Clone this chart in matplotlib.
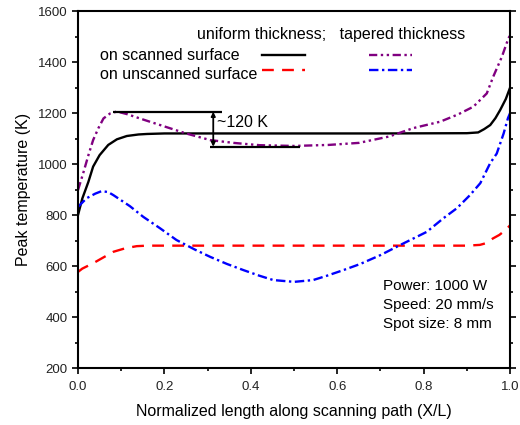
import matplotlib
matplotlib.use("Agg")
import matplotlib.pyplot as plt
from matplotlib.ticker import MultipleLocator

plt.rcParams["font.family"] = ["Liberation Sans", "DejaVu Sans"]

# uniform thickness, scanned surface
x_us = [0, 0.01, 0.024, 0.035, 0.05, 0.07, 0.09, 0.113, 0.14, 0.16, 0.2, 0.3,
        0.5, 0.7, 0.9, 0.926, 0.94, 0.954, 0.966, 0.977, 0.99, 1.0]
t_us = [800, 865, 930, 990, 1035, 1075, 1097, 1110, 1116, 1118, 1120, 1120,
        1120, 1120, 1121, 1124, 1137, 1153, 1180, 1212, 1255, 1300]

# uniform thickness, unscanned surface
x_uu = [0, 0.01, 0.035, 0.06, 0.082, 0.11, 0.136, 0.16, 0.2, 0.5, 0.9, 0.93,
        0.945, 0.96, 0.975, 0.99, 1.0]
t_uu = [577, 590, 611, 635, 656, 670, 678, 680, 680, 680, 680, 683,
        690, 708, 722, 742, 760]

# tapered thickness, scanned surface
x_ts = [0, 0.012, 0.025, 0.035, 0.047, 0.059, 0.074, 0.09, 0.113, 0.15, 0.19,
        0.25, 0.306, 0.36, 0.42, 0.5, 0.58, 0.65, 0.72, 0.776, 0.838, 0.88,
        0.915, 0.946, 0.961, 0.981, 0.996, 1.0]
t_ts = [898, 964, 1040, 1094, 1140, 1179, 1198, 1206, 1196, 1175, 1153,
        1120, 1094, 1083, 1074, 1071, 1075, 1083, 1108, 1141, 1166, 1195,
        1225, 1277, 1343, 1421, 1493, 1505]

# tapered thickness, unscanned surface
x_tu = [0, 0.02, 0.04, 0.055, 0.07, 0.082, 0.12, 0.151, 0.19, 0.228, 0.27,
        0.306, 0.345, 0.383, 0.42, 0.452, 0.5, 0.544, 0.576, 0.614, 0.653,
        0.7, 0.745, 0.807, 0.846, 0.877, 0.907, 0.931, 0.954, 0.969, 0.985,
        0.995, 1.0]
t_tu = [832, 866, 884, 894, 890, 878, 835, 793, 748, 702, 665,
        636, 608, 584, 562, 545, 538, 545, 562, 584, 608,
        643, 682, 734, 788, 827, 878, 925, 1004, 1041, 1120,
        1180, 1200]

# ~120 K marker
upper_level, lower_level = 1205, 1068
upper_span = [0.081, 0.333]
lower_span = [0.306, 0.514]
arrow_x = 0.313

fig = plt.figure(figsize=(5.2, 4.25), dpi=100)
ax = fig.add_axes([0.15, 0.134, 0.831, 0.840])

ln_us, = ax.plot(x_us, t_us, color="black", lw=1.7, ls="-")
ln_uu, = ax.plot(x_uu, t_uu, color="#ff0000", lw=1.7, ls=(0, (5, 3.5)))
ln_ts, = ax.plot(x_ts, t_ts, color="#800080", lw=1.7, ls=(0, (3.5, 1.5, 1, 1.5, 1, 1.5)))
ln_tu, = ax.plot(x_tu, t_tu, color="#0000ff", lw=1.7, ls=(0, (4, 1.5, 1, 1.5)))

ax.hlines(upper_level, *upper_span, color="black", lw=1.6)
ax.hlines(lower_level, *lower_span, color="black", lw=1.6)
ax.annotate("", xy=(arrow_x, lower_level), xytext=(arrow_x, upper_level),
            arrowprops=dict(arrowstyle="<|-|>", color="black", lw=1.3,
                            mutation_scale=6, shrinkA=0, shrinkB=0))
ax.text(0.322, 1163, "~120 K", fontsize=11.5, va="center", ha="left")

# legend block
ax.text(0.275, 1490, "uniform thickness;   tapered thickness", fontsize=11.5,
        va="baseline", ha="left")
ax.text(0.051, 1410, "on scanned surface", fontsize=11.5, va="baseline", ha="left")
ax.text(0.051, 1334, "on unscanned surface", fontsize=11.5, va="baseline", ha="left")
ax.legend(handles=[ln_us, ln_uu, ln_ts, ln_tu], labels=["", "", "", ""], ncol=2,
          loc="center left", bbox_to_anchor=(0.425, 1394),
          bbox_transform=ax.transData, frameon=False, fontsize=11.5,
          handlelength=2.7, handletextpad=0, columnspacing=4.0,
          labelspacing=0.05, borderpad=0, borderaxespad=0)

ax.text(0.705, 447, "Power: 1000 W\nSpeed: 20 mm/s\nSpot size: 8 mm", fontsize=11,
        va="center", ha="left", linespacing=1.45)

ax.set_xlim(0, 1.0)
ax.set_ylim(200, 1600)
ax.xaxis.set_major_locator(MultipleLocator(0.2))
ax.xaxis.set_minor_locator(MultipleLocator(0.1))
ax.yaxis.set_major_locator(MultipleLocator(200))
ax.yaxis.set_minor_locator(MultipleLocator(100))
ax.set_xticklabels([f"{v:.1f}" for v in ax.get_xticks()])

for s in ax.spines.values():
    s.set_linewidth(1.5)
ax.tick_params(which="both", direction="out", top=False, right=True,
               width=1.2, labelsize=9.5, labelcolor="#222222")
ax.tick_params(which="major", length=4)
ax.tick_params(which="minor", length=2.5)
ax.tick_params(axis="x", pad=5)

ax.set_xlabel("Normalized length along scanning path (X/L)", fontsize=11.5, labelpad=8)
ax.set_ylabel("Peak temperature (K)", fontsize=11.5, labelpad=5)

fig.savefig("out.png", dpi=100)
